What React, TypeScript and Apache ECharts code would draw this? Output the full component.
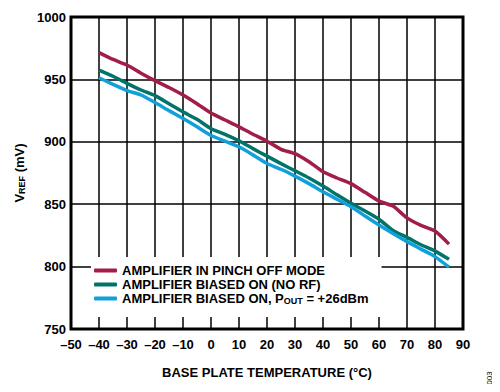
import React, { useEffect, useRef } from "react";
import * as echarts from "echarts";

const temps = [-40, -35, -30, -25, -20, -15, -10, -5, 0, 5, 10, 15, 20, 25, 30, 35, 40, 45, 50, 55, 60, 65, 70, 75, 80, 85];
const pinchOff = [971.5, 966, 961.5, 955, 949, 943.5, 937.5, 930.5, 923, 917.5, 912, 906, 900.5, 894, 890.5, 884, 876, 871, 866.5, 859.5, 852.5, 848.5, 839, 833, 828.5, 818];
const biasedNoRf = [957.5, 952.5, 946.8, 941.5, 937, 930.5, 924, 918, 910.5, 906, 900.8, 894.5, 888.5, 882.5, 876.8, 871, 864.5, 857.5, 850.7, 844.5, 837.9, 829, 823.4, 817.5, 812.4, 805.8];
const biasedPout = [951.3, 946, 941, 937.5, 931.5, 925, 918.7, 912, 905, 900.5, 896, 889.5, 882.6, 878, 872.5, 866.5, 860, 854, 848, 840.5, 833.3, 826.5, 820, 814, 808, 799.5];

const seriesNames = [
  "AMPLIFIER IN PINCH OFF MODE",
  "AMPLIFIER BIASED ON (NO RF)",
  "AMPLIFIER BIASED ON, POUT = +26dBm",
];
const seriesColors = ["#A21D4A", "#00746B", "#12A0DA"];

const FONT = "'Liberation Sans', Arial, sans-serif";

export default function App() {
  const ref = useRef<HTMLDivElement>(null);
  useEffect(() => {
    if (!ref.current) return;
    const chart = echarts.init(ref.current, undefined, { renderer: "svg" });
    const values = [pinchOff, biasedNoRf, biasedPout];
    chart.setOption({
      animation: false,
      backgroundColor: "#fff",
      grid: {
        left: 71,
        right: 37,
        top: 17,
        bottom: 63,
        show: true,
        borderColor: "#000",
        borderWidth: 3,
        backgroundColor: "transparent",
      },
      xAxis: {
        type: "value",
        min: -50,
        max: 90,
        interval: 10,
        name: "BASE PLATE TEMPERATURE (°C)",
        nameLocation: "middle",
        nameGap: 37,
        nameTextStyle: { fontFamily: FONT, fontWeight: "bold", fontSize: 13, color: "#000" },
        axisLine: { show: false },
        axisTick: { show: false },
        axisLabel: {
          margin: 9,
          fontFamily: FONT,
          fontWeight: "bold",
          fontSize: 13,
          color: "#000",
          formatter: (v: number) => String(v).replace("-", "\u2013"),
        },
        splitLine: { show: true, lineStyle: { color: "#000", width: 1.5 } },
      },
      yAxis: {
        type: "value",
        min: 750,
        max: 1000,
        interval: 50,
        name: "{v|V}{s|REF}{v| (mV)}",
        nameLocation: "middle",
        nameGap: 44,
        nameTextStyle: {
          color: "#000",
          rich: {
            v: { fontFamily: FONT, fontWeight: "bold", fontSize: 13, color: "#000" },
            s: { fontFamily: FONT, fontWeight: "bold", fontSize: 9, color: "#000", verticalAlign: "bottom", padding: [5, 0, 0, 0] },
          },
        },
        axisLine: { show: false },
        axisTick: { show: false },
        axisLabel: {
          margin: 5,
          fontFamily: FONT,
          fontWeight: "bold",
          fontSize: 13,
          color: "#000",
          formatter: (v: number) => String(v),
        },
        splitLine: { show: true, lineStyle: { color: "#000", width: 1.5 } },
      },
      legend: {
        orient: "vertical",
        left: 91,
        top: 257,
        backgroundColor: "#fff",
        padding: [7, 13, 12, 3],
        itemGap: 1,
        itemWidth: 23,
        itemHeight: 4,
        icon: "roundRect",
        data: seriesNames,
        formatter: (name: string) =>
          name.includes("POUT")
            ? "{a|AMPLIFIER BIASED ON, P}{s|OUT}{a| = +26dBm}"
            : "{a|" + name + "}",
        textStyle: {
          color: "#000",
          padding: [0, 0, 0, 0],
          rich: {
            a: { fontFamily: FONT, fontWeight: "bold", fontSize: 13, color: "#000", lineHeight: 13 },
            s: { fontFamily: FONT, fontWeight: "bold", fontSize: 9, color: "#000", verticalAlign: "bottom", padding: [4, 0, 0, 0], lineHeight: 9 },
          },
        },
      },
      series: seriesNames.map((name, i) => ({
        name,
        type: "line",
        data: temps.map((t, j) => [t, values[i][j]]),
        showSymbol: false,
        smooth: 0.2,
        lineStyle: { color: seriesColors[i], width: 3.5 },
        itemStyle: { color: seriesColors[i] },
        z: 3,
      })),
      graphic: [
        {
          type: "text",
          x: 489,
          y: 378,
          rotation: Math.PI / 2,
          style: {
            text: "003",
            fontFamily: FONT,
            fontSize: 8,
            fill: "#000",
            align: "center",
            verticalAlign: "middle",
          },
        },
      ],
    });
    return () => chart.dispose();
  }, []);
  return <div ref={ref} style={{ width: 500, height: 392, margin: -8 }} />;
}
